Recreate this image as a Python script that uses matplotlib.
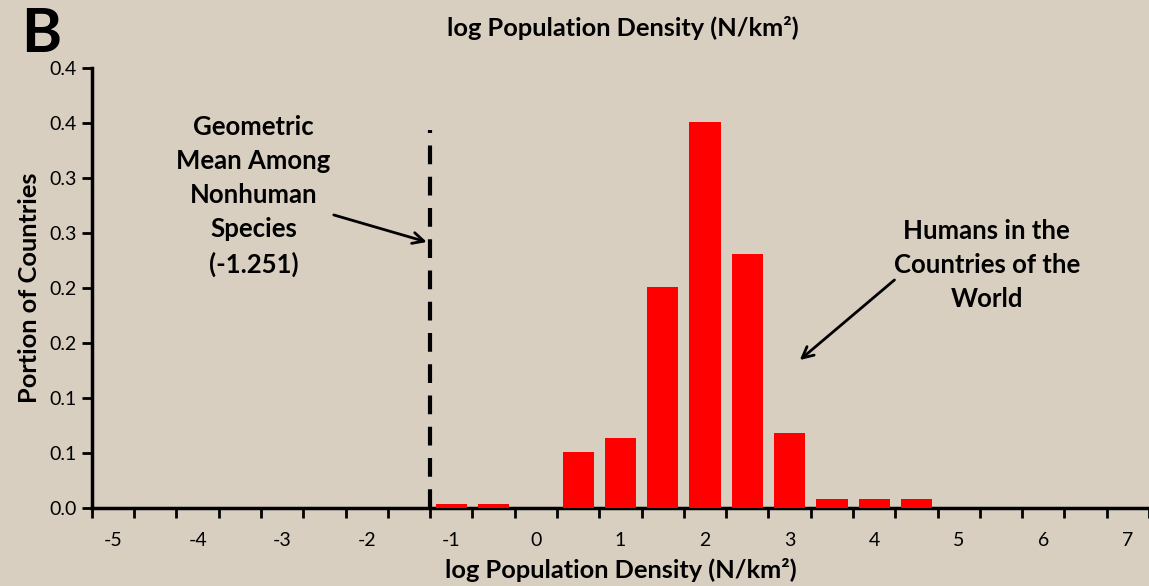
import numpy as np
import matplotlib
matplotlib.use("Agg")
import matplotlib.pyplot as plt
from matplotlib.ticker import FixedLocator

plt.rcParams['font.family'] = ['Lato', 'DejaVu Sans']

# histogram of log population density across countries
bin_centers = [-1.0, -0.5, 0.5, 1.0, 1.5, 2.0, 2.5, 3.0, 3.5, 4.0, 4.5]
portion = [0.004, 0.004, 0.051, 0.064, 0.201, 0.351, 0.231, 0.068, 0.008, 0.008, 0.008]

nonhuman_mean = -1.251
x_labels = [-5, -4, -3, -2, -1, 0, 1, 2, 3, 4, 5, 6, 7]
y_ticks = [0.0, 0.05, 0.10, 0.15, 0.20, 0.25, 0.30, 0.35, 0.40]
y_tick_labels = ['0.0', '0.1', '0.1', '0.2', '0.2', '0.3', '0.3', '0.4', '0.4']

sand = '#d8cfc1'
title = 'log Population Density (N/km²)'

fig = plt.figure(figsize=(11.49, 5.86), dpi=100, facecolor=sand)
ax = fig.add_axes([0.080, 0.1331, 0.920, 0.7509])
ax.set_facecolor('none')

ax.bar(bin_centers, portion, width=0.37, color='#ff0000', zorder=3)
ax.plot([nonhuman_mean, nonhuman_mean], [0, 0.3436], color='black', lw=3,
        dashes=(4.5, 3), zorder=4)

ax.set_xlim(-5.25, 7.25)
ax.set_ylim(0, 0.4)

ax.set_xticks(x_labels)
ax.set_xticklabels([str(v) for v in x_labels])
ax.xaxis.set_minor_locator(FixedLocator(np.arange(-5.25, 7.3, 0.5)))
ax.tick_params(axis='x', which='major', length=0, pad=17, labelsize=14)
ax.tick_params(axis='x', which='minor', length=7, width=2, direction='out')

ax.set_yticks(y_ticks)
ax.set_yticklabels(y_tick_labels)
ax.tick_params(axis='y', length=7, width=2, direction='out', labelsize=14, pad=4)

for s in ['top', 'right']:
    ax.spines[s].set_visible(False)
for s in ['left', 'bottom']:
    ax.spines[s].set_linewidth(2.5)

ax.set_xlabel(title, fontsize=18.3, fontweight='bold', labelpad=7)
ax.set_ylabel('Portion of Countries', fontsize=18.3, fontweight='bold', labelpad=6)

fig.text(0.542, 0.952, title, ha='center', va='center',
         fontsize=18.3, fontweight='bold')
fig.text(0.018, 0.942, 'B', ha='left', va='center', fontsize=44, fontweight='bold')

ax.text(-3.34, 0.2836, 'Geometric\nMean Among\nNonhuman\nSpecies\n(-1.251)',
        ha='center', va='center', fontsize=18.5, fontweight='bold', linespacing=1.5)
ax.annotate('', xy=(-1.29, 0.2418), xytext=(-2.39, 0.2664),
            arrowprops=dict(arrowstyle='->', lw=2, color='black', mutation_scale=20,
                            shrinkA=0, shrinkB=0))

ax.text(5.33, 0.2205, 'Humans in the\nCountries of the\nWorld', ha='center', va='center',
        fontsize=18.5, fontweight='bold', linespacing=1.5)
ax.annotate('', xy=(3.12, 0.1345), xytext=(4.24, 0.2073),
            arrowprops=dict(arrowstyle='->', lw=2, color='black', mutation_scale=20,
                            shrinkA=0, shrinkB=0))

fig.savefig('out.png', dpi=100, facecolor=sand)
